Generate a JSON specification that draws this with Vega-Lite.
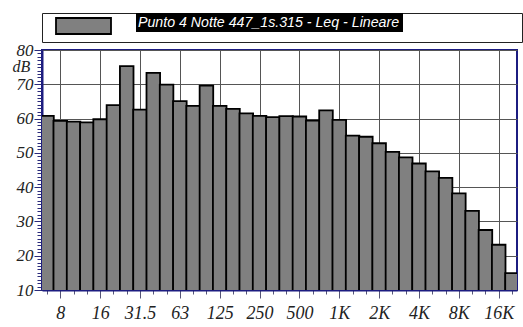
{
  "$schema": "https://vega.github.io/schema/vega-lite/v6.json",
  "width": 475,
  "height": 240,
  "autosize": {"type": "none"},
  "padding": {"left": 42, "top": 50, "right": 6, "bottom": 37},
  "background": "white",
  "config": {
    "view": {"stroke": "#1c1c80", "strokeWidth": 2},
    "font": "Liberation Serif",
    "axis": {"labelFont": "Liberation Serif", "labelFontStyle": "italic", "titleFont": "Liberation Serif", "titleFontStyle": "italic"}
  },
  "data": {
    "values": [
      {"i": 0, "band": "6.3", "level": 60.8, "series": "Punto 4 Notte 447_1s.315 - Leq - Lineare"},
      {"i": 1, "band": "8", "level": 59.3, "series": "Punto 4 Notte 447_1s.315 - Leq - Lineare"},
      {"i": 2, "band": "10", "level": 59.1, "series": "Punto 4 Notte 447_1s.315 - Leq - Lineare"},
      {"i": 3, "band": "12.5", "level": 58.9, "series": "Punto 4 Notte 447_1s.315 - Leq - Lineare"},
      {"i": 4, "band": "16", "level": 59.8, "series": "Punto 4 Notte 447_1s.315 - Leq - Lineare"},
      {"i": 5, "band": "20", "level": 63.9, "series": "Punto 4 Notte 447_1s.315 - Leq - Lineare"},
      {"i": 6, "band": "25", "level": 75.3, "series": "Punto 4 Notte 447_1s.315 - Leq - Lineare"},
      {"i": 7, "band": "31.5", "level": 62.6, "series": "Punto 4 Notte 447_1s.315 - Leq - Lineare"},
      {"i": 8, "band": "40", "level": 73.3, "series": "Punto 4 Notte 447_1s.315 - Leq - Lineare"},
      {"i": 9, "band": "50", "level": 69.9, "series": "Punto 4 Notte 447_1s.315 - Leq - Lineare"},
      {"i": 10, "band": "63", "level": 65.1, "series": "Punto 4 Notte 447_1s.315 - Leq - Lineare"},
      {"i": 11, "band": "80", "level": 63.7, "series": "Punto 4 Notte 447_1s.315 - Leq - Lineare"},
      {"i": 12, "band": "100", "level": 69.6, "series": "Punto 4 Notte 447_1s.315 - Leq - Lineare"},
      {"i": 13, "band": "125", "level": 63.7, "series": "Punto 4 Notte 447_1s.315 - Leq - Lineare"},
      {"i": 14, "band": "160", "level": 62.8, "series": "Punto 4 Notte 447_1s.315 - Leq - Lineare"},
      {"i": 15, "band": "200", "level": 61.5, "series": "Punto 4 Notte 447_1s.315 - Leq - Lineare"},
      {"i": 16, "band": "250", "level": 60.8, "series": "Punto 4 Notte 447_1s.315 - Leq - Lineare"},
      {"i": 17, "band": "315", "level": 60.4, "series": "Punto 4 Notte 447_1s.315 - Leq - Lineare"},
      {"i": 18, "band": "400", "level": 60.7, "series": "Punto 4 Notte 447_1s.315 - Leq - Lineare"},
      {"i": 19, "band": "500", "level": 60.6, "series": "Punto 4 Notte 447_1s.315 - Leq - Lineare"},
      {"i": 20, "band": "630", "level": 59.4, "series": "Punto 4 Notte 447_1s.315 - Leq - Lineare"},
      {"i": 21, "band": "800", "level": 62.4, "series": "Punto 4 Notte 447_1s.315 - Leq - Lineare"},
      {"i": 22, "band": "1K", "level": 59.6, "series": "Punto 4 Notte 447_1s.315 - Leq - Lineare"},
      {"i": 23, "band": "1.25K", "level": 55.0, "series": "Punto 4 Notte 447_1s.315 - Leq - Lineare"},
      {"i": 24, "band": "1.6K", "level": 54.7, "series": "Punto 4 Notte 447_1s.315 - Leq - Lineare"},
      {"i": 25, "band": "2K", "level": 52.8, "series": "Punto 4 Notte 447_1s.315 - Leq - Lineare"},
      {"i": 26, "band": "2.5K", "level": 50.3, "series": "Punto 4 Notte 447_1s.315 - Leq - Lineare"},
      {"i": 27, "band": "3.15K", "level": 48.7, "series": "Punto 4 Notte 447_1s.315 - Leq - Lineare"},
      {"i": 28, "band": "4K", "level": 46.9, "series": "Punto 4 Notte 447_1s.315 - Leq - Lineare"},
      {"i": 29, "band": "5K", "level": 44.6, "series": "Punto 4 Notte 447_1s.315 - Leq - Lineare"},
      {"i": 30, "band": "6.3K", "level": 42.7, "series": "Punto 4 Notte 447_1s.315 - Leq - Lineare"},
      {"i": 31, "band": "8K", "level": 38.2, "series": "Punto 4 Notte 447_1s.315 - Leq - Lineare"},
      {"i": 32, "band": "10K", "level": 33.1, "series": "Punto 4 Notte 447_1s.315 - Leq - Lineare"},
      {"i": 33, "band": "12.5K", "level": 27.5, "series": "Punto 4 Notte 447_1s.315 - Leq - Lineare"},
      {"i": 34, "band": "16K", "level": 23.2, "series": "Punto 4 Notte 447_1s.315 - Leq - Lineare"},
      {"i": 35, "band": "20K", "level": 14.9, "series": "Punto 4 Notte 447_1s.315 - Leq - Lineare"}
    ]
  },
  "mark": {"type": "bar", "orient": "vertical", "width": 13.57, "clip": true},
  "encoding": {
    "x": {
      "field": "i",
      "type": "quantitative",
      "scale": {"domain": [0, 35], "nice": false, "zero": false},
      "axis": {
        "title": null,
        "values": [0,1,2,3,4,5,6,7,8,9,10,11,12,13,14,15,16,17,18,19,20,21,22,23,24,25,26,27,28,29,30,31,32,33,34,35],
        "labelExpr": "['','8','','','16','','','31.5','','','63','','','125','','','250','','','500','','','1K','','','2K','','','4K','','','8K','','','16K',''][datum.value]",
        "labelFont": "Liberation Serif",
        "labelFontStyle": "italic",
        "labelFontSize": 18,
        "labelColor": "#222222",
        "labelPadding": 6,
        "labelOverlap": false,
        "labelFlush": false,
        "labelBound": false,
        "tickSize": {"condition": {"test": "(datum.value - 1) % 3 === 0", "value": 8}, "value": 4},
        "tickColor": "#555577",
        "domainColor": "#1c1c80",
        "domainWidth": 2,
        "grid": true,
        "gridColor": "#555555",
        "gridOpacity": {"condition": {"test": "(datum.value - 1) % 3 === 0", "value": 1}, "value": 0}
      }
    },
    "y": {
      "field": "level",
      "type": "quantitative",
      "scale": {"domain": [10, 80], "nice": false, "zero": false},
      "axis": {
        "title": "dB",
        "titleAngle": 0,
        "titleX": -21,
        "titleY": 16.5,
        "titleAlign": "center",
        "titleBaseline": "middle",
        "titleFont": "Liberation Serif",
        "titleFontStyle": "italic",
        "titleFontWeight": "normal",
        "titleFontSize": 16,
        "titleColor": "#222222",
        "values": [10,11,12,13,14,15,16,17,18,19,20,21,22,23,24,25,26,27,28,29,30,31,32,33,34,35,36,37,38,39,40,41,42,43,44,45,46,47,48,49,50,51,52,53,54,55,56,57,58,59,60,61,62,63,64,65,66,67,68,69,70,71,72,73,74,75,76,77,78,79,80],
        "labelExpr": "datum.value % 10 === 0 ? datum.label : ''",
        "labelFont": "Liberation Serif",
        "labelFontStyle": "italic",
        "labelFontSize": 17,
        "labelColor": "#222222",
        "labelPadding": 1,
        "labelOverlap": false,
        "labelFlush": false,
        "labelBound": false,
        "tickSize": {"condition": {"test": "datum.value % 10 === 0", "value": 8}, "value": 5},
        "tickColor": "#2a2a7a",
        "domainColor": "#1c1c80",
        "domainWidth": 2,
        "grid": true,
        "gridColor": "#555555",
        "gridOpacity": {"condition": {"test": "datum.value % 10 === 0", "value": 1}, "value": 0}
      }
    },
    "strokeWidth": {"value": 1.8},
    "fill": {
      "datum": "Leq",
      "type": "nominal",
      "scale": {"range": ["#808080"]},
      "legend": {
        "orient": "none",
        "legendX": 0,
        "legendY": -37,
        "title": null,
        "padding": 4,
        "strokeColor": "#222222",
        "fillColor": "white",
        "symbolType": "M-1,-1H5.875V1H-1Z",
        "symbolSize": 256,
        "symbolOffset": 9,
        "symbolStrokeColor": "black",
        "symbolStrokeWidth": 1.8,
        "labelExpr": "'\u00a0'",
        "labelFontSize": 14,
        "labelOffset": 445
      }
    },
    "stroke": {
      "field": "series",
      "type": "nominal",
      "scale": {"range": ["black"]},
      "legend": {
        "orient": "none",
        "legendX": 84.5,
        "legendY": -46.5,
        "title": null,
        "padding": 0,
        "symbolType": "M-1,0H27.105",
        "symbolSize": 361,
        "symbolStrokeWidth": 19,
        "labelColor": "white",
        "labelFont": "Liberation Sans",
        "labelFontStyle": "italic",
        "labelFontSize": 14.2,
        "labelOffset": -26.5,
        "labelLimit": 0
      }
    }
  }
}
